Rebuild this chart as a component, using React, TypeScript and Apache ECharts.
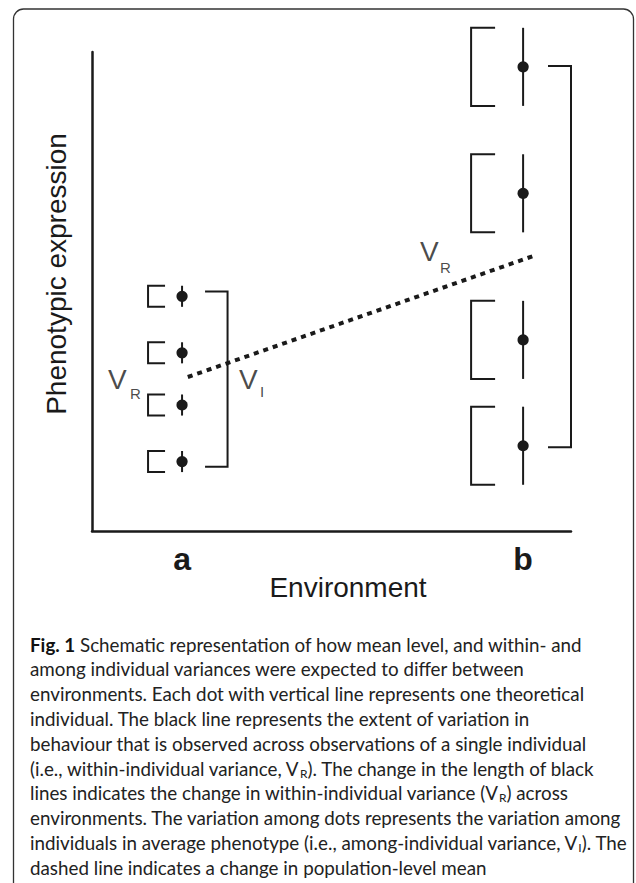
import React, { useEffect, useRef } from "react";
import * as echarts from "echarts";

// Environments on the x axis
const envValues = [1.88, 9.0];
const envLabels = ["a", "b"];

// Mean phenotype of each individual (y) per environment
const meansA = [4.9, 3.72, 2.63, 1.45];
const meansB = [9.69, 7.05, 3.99, 1.78];

// Half-extent of within-individual variation (V_R) per environment
const halfRangeA = 0.22;
const halfRangeB = 0.815;

// Among-individual variation (V_I) brackets: [xLeft, xRight, yLow, yHigh]
const viBracketA = [2.36, 2.83, 1.34, 5.0];
const viBracketB = [9.52, 10.0, 1.75, 9.71];

// Population-level mean change (dashed line)
const meanLineX = [2.0, 9.21];
const meanLineY = [3.215, 5.74];

// Annotation labels in data coordinates
const annoText = ["V", "R", "V", "I", "V", "R", "V", "I"];
const annoX = [0.334, 0.793, 3.069, 3.507, 6.848, 7.265, 10.355, 10.772];
const annoY = [3.159, 2.864, 3.173, 2.912, 5.835, 5.511, 5.835, 5.595];
const annoIsSub = [false, true, false, true, false, true, false, true];

const yAxisTitle = "Phenotypic expression";
const xAxisTitle = "Environment";

const captionLines = [
  "{b|Fig. 1} Schematic representation of how mean level, and within- and",
  "among individual variances were expected to differ between",
  "environments. Each dot with vertical line represents one theoretical",
  "individual. The black line represents the extent of variation in",
  "behaviour that is observed across observations of a single individual",
  "(i.e., within-individual variance, V{s|R}). The change in the length of black",
  "lines indicates the change in within-individual variance (V{s|R}) across",
  "environments. The variation among dots represents the variation among",
  "individuals in average phenotype (i.e., among-individual variance, V{s|I}). The",
  "dashed line indicates a change in population-level mean",
];

const ink = "#1a1a1a";
const sansChart = "'Liberation Sans', Arial, Helvetica, sans-serif";
const sansCaption = "Lato, 'Open Sans', sans-serif";

export default function App() {
  const ref = useRef<HTMLDivElement>(null);

  useEffect(() => {
    if (!ref.current) return;
    const chart = echarts.init(ref.current, undefined, { renderer: "svg" });

    // bracket geometry (pixels) per environment
    const bracketGeom = [
      { gap: 17, width: 17 },
      { gap: 28, width: 24 },
    ];

    const individuals: number[][] = [];
    meansA.forEach((m) => individuals.push([envValues[0], m, halfRangeA, 0]));
    meansB.forEach((m) => individuals.push([envValues[1], m, halfRangeB, 1]));

    // caption layout
    const capLeft = 30;
    const capTop = 633;
    const capStep = 24.8;
    const capSize = 18.8;

    const option: any = {
      animation: false,
      grid: { left: 92, top: 52, width: 479, height: 479, outerBoundsMode: "none" },
      xAxis: {
        type: "value",
        min: 0,
        max: 10,
        axisLine: { show: true, onZero: false, lineStyle: { color: ink, width: 2.5 } },
        axisTick: { show: false },
        splitLine: { show: false },
        axisLabel: {
          show: true,
          customValues: envValues,
          formatter: (v: number) => {
            const i = envValues.indexOf(v);
            return i >= 0 ? envLabels[i] : "";
          },
          fontSize: 32,
          fontWeight: "bold",
          color: ink,
          fontFamily: sansChart,
          margin: 12,
        },
      },
      yAxis: {
        type: "value",
        min: 0,
        max: 10,
        axisLine: { show: true, onZero: false, lineStyle: { color: ink, width: 2.5 } },
        axisTick: { show: false },
        splitLine: { show: false },
        axisLabel: { show: false },
      },
      series: [
        {
          type: "line",
          data: meanLineX.map((x, i) => [x, meanLineY[i]]),
          symbol: "none",
          lineStyle: { color: ink, width: 4, type: [5, 5], cap: "butt" },
          silent: true,
          z: 1,
        },
        {
          type: "custom",
          clip: false,
          silent: true,
          data: individuals,
          renderItem: (params: any, api: any) => {
            const x = api.value(0);
            const y = api.value(1);
            const h = api.value(2);
            const e = api.value(3);
            const c = api.coord([x, y]);
            const top = api.coord([x, y + h])[1];
            const bot = api.coord([x, y - h])[1];
            const g = bracketGeom[e];
            const xr = c[0] - g.gap;
            const xl = xr - g.width;
            return {
              type: "group",
              children: [
                {
                  type: "polyline",
                  shape: { points: [[xr, top], [xl, top], [xl, bot], [xr, bot]] },
                  style: { stroke: ink, lineWidth: 2, fill: "none" },
                },
                {
                  type: "line",
                  shape: { x1: c[0], y1: top, x2: c[0], y2: bot },
                  style: { stroke: ink, lineWidth: 2 },
                },
                {
                  type: "circle",
                  shape: { cx: c[0], cy: c[1], r: 5.6 },
                  style: { fill: ink },
                },
              ],
            };
          },
          z: 3,
        },
        {
          type: "custom",
          clip: false,
          silent: true,
          data: [viBracketA, viBracketB],
          renderItem: (params: any, api: any) => {
            const p1 = api.coord([api.value(0), api.value(3)]);
            const p2 = api.coord([api.value(1), api.value(2)]);
            return {
              type: "polyline",
              shape: {
                points: [
                  [p1[0], p1[1]],
                  [p2[0], p1[1]],
                  [p2[0], p2[1]],
                  [p1[0], p2[1]],
                ],
              },
              style: { stroke: ink, lineWidth: 2, fill: "none" },
            };
          },
          z: 3,
        },
        {
          type: "scatter",
          silent: true,
          symbolSize: 1,
          itemStyle: { color: "transparent" },
          data: annoText.map((t, i) => ({
            value: [annoX[i], annoY[i]],
            label: {
              show: true,
              formatter: t,
              position: "inside",
              align: "left",
              verticalAlign: "middle",
              color: ink,
              fontFamily: sansChart,
              fontSize: annoIsSub[i] ? 15 : 28,
            },
          })),
          z: 4,
        },
      ],
      graphic: [
        {
          type: "rect",
          silent: true,
          shape: { x: 13.5, y: 9, width: 620, height: 900, r: 10 },
          style: { fill: "none", stroke: "#333", lineWidth: 1.3 },
        },
        {
          type: "text",
          silent: true,
          x: 56,
          y: 274,
          rotation: Math.PI / 2,
          style: {
            text: yAxisTitle,
            fontSize: 28,
            fontFamily: sansChart,
            fill: ink,
            align: "center",
            verticalAlign: "middle",
          },
        },
        {
          type: "text",
          silent: true,
          x: 348,
          y: 587,
          style: {
            text: xAxisTitle,
            fontSize: 28,
            fontFamily: sansChart,
            fill: ink,
            align: "center",
            verticalAlign: "middle",
          },
        },
        ...captionLines.map((line, i) => ({
          type: "text",
          silent: true,
          x: capLeft,
          y: capTop + i * capStep,
          style: {
            text: line,
            fontSize: capSize,
            fontFamily: sansCaption,
            fill: "#222",
            lineHeight: 22,
            align: "left",
            verticalAlign: "top",
            rich: {
              b: { fontSize: capSize, fontWeight: "bold", fontFamily: sansCaption, fill: "#111", lineHeight: 22 },
              s: { fontSize: 12, fontFamily: sansCaption, fill: "#222", lineHeight: 12, verticalAlign: "bottom" },
            },
          },
        })),
      ],
    };

    chart.setOption(option);
    return () => chart.dispose();
  }, []);

  return (
    <div
      ref={ref}
      style={{ position: "fixed", left: 0, top: 0, width: 636, height: 883, background: "#fff" }}
    />
  );
}
